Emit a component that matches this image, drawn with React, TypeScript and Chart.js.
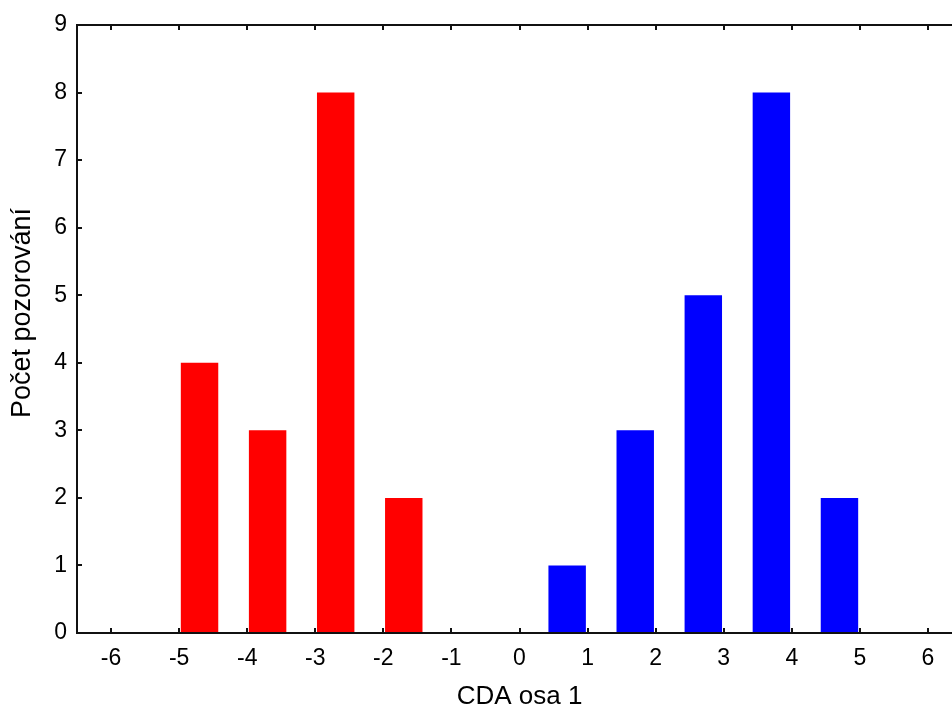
import React, { useEffect, useRef } from "react";
import { Chart, registerables } from "chart.js";

Chart.register(...registerables);

// Data
const redCenters = [-4.7, -3.7, -2.7, -1.7];
const redCounts = [4, 3, 8, 2];
const blueCenters = [0.7, 1.7, 2.7, 3.7, 4.7];
const blueCounts = [1, 3, 5, 8, 2];
const xTickValues = [-6, -5, -4, -3, -2, -1, 0, 1, 2, 3, 4, 5, 6];
const yTickValues = [0, 1, 2, 3, 4, 5, 6, 7, 8, 9];
const xTitle = "CDA osa 1";
const yTitle = "Počet pozorování";

const FONT = '"Liberation Sans", Arial, sans-serif';

const framePlugin = {
  id: "frame",
  afterDraw(chart: any) {
    const { ctx, chartArea, scales } = chart;
    const { left, right, top, bottom } = chartArea;
    const x = scales.x;
    const y = scales.y;
    ctx.save();
    ctx.strokeStyle = "#111";
    ctx.lineWidth = 2;
    ctx.beginPath();
    ctx.moveTo(right, top);
    ctx.lineTo(left, top);
    ctx.lineTo(left, bottom);
    ctx.lineTo(right, bottom);
    ctx.lineTo(right, top);
    ctx.stroke();
    ctx.beginPath();
    for (const v of xTickValues) {
      const px = Math.round(x.getPixelForValue(v));
      ctx.moveTo(px, bottom);
      ctx.lineTo(px, bottom - 5);
      ctx.moveTo(px, top);
      ctx.lineTo(px, top + 5);
    }
    for (const v of yTickValues) {
      const py = Math.round(y.getPixelForValue(v));
      ctx.moveTo(left, py);
      ctx.lineTo(left + 5, py);
      ctx.moveTo(right, py);
      ctx.lineTo(right - 5, py);
    }
    ctx.stroke();
    // rotated y-axis title
    ctx.fillStyle = "#000";
    ctx.font = `27px ${FONT}`;
    ctx.translate(23, (top + bottom) / 2 - 16);
    ctx.rotate(-Math.PI / 2);
    ctx.textAlign = "center";
    ctx.textBaseline = "middle";
    ctx.fillText(yTitle, 0, 0);
    ctx.restore();
  },
};

export default function App() {
  const ref = useRef<HTMLCanvasElement | null>(null);

  useEffect(() => {
    if (!ref.current) return;
    const chart = new Chart(ref.current, {
      type: "bar",
      data: {
        datasets: [
          {
            label: "red",
            data: redCenters.map((c, i) => ({ x: c, y: redCounts[i] })),
            backgroundColor: "#ff0000",
            borderWidth: 0,
            grouped: false,
            barPercentage: 0.55,
            categoryPercentage: 1,
          } as any,
          {
            label: "blue",
            data: blueCenters.map((c, i) => ({ x: c, y: blueCounts[i] })),
            backgroundColor: "#0000ff",
            borderWidth: 0,
            grouped: false,
            barPercentage: 0.55,
            categoryPercentage: 1,
          } as any,
        ],
      },
      options: {
        animation: false,
        responsive: false,
        maintainAspectRatio: false,
        layout: { padding: { left: 0, right: 18, top: 25, bottom: 0 } },
        plugins: { legend: { display: false }, tooltip: { enabled: false } },
        scales: {
          x: {
            type: "linear",
            min: -6.5,
            max: 6.5,
            offset: false,
            grid: { display: false, drawTicks: false },
            border: { display: false },
            afterBuildTicks(s: any) {
              s.ticks = xTickValues.map((v) => ({ value: v }));
            },
            ticks: {
              autoSkip: false,
              maxRotation: 0,
              padding: 12,
              color: "#000",
              font: { family: FONT, size: 23 },
            },
            title: {
              display: true,
              text: xTitle,
              color: "#000",
              font: { family: FONT, size: 26 },
              padding: { top: 0, bottom: 0 },
            },
            afterFit(s: any) {
              s.height = 79;
            },
          } as any,
          y: {
            type: "linear",
            min: 0,
            max: 9,
            grid: { display: false, drawTicks: false },
            border: { display: false },
            afterBuildTicks(s: any) {
              s.ticks = yTickValues.map((v) => ({ value: v }));
            },
            ticks: {
              padding: 10,
              color: "#000",
              font: { family: FONT, size: 23 },
            },
            afterFit(s: any) {
              s.width = 77;
            },
          } as any,
        },
      },
      plugins: [framePlugin],
    });
    return () => chart.destroy();
  }, []);

  return (
    <div
      style={{
        position: "fixed",
        left: 0,
        top: 0,
        width: 952,
        height: 712,
        overflow: "hidden",
        background: "#fff",
      }}
    >
      <canvas ref={ref} width={980} height={712} style={{ width: 980, height: 712, display: "block" }} />
    </div>
  );
}
